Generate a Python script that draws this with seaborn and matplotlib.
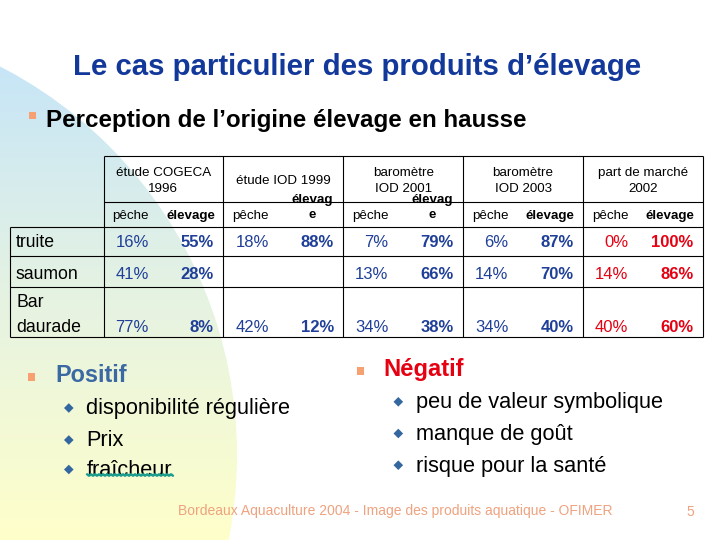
import numpy as np
import matplotlib
matplotlib.use("Agg")
import matplotlib.pyplot as plt
from matplotlib.patches import Circle, Rectangle, Polygon
import seaborn as sns

# ---------------- data ----------------
title = "Le cas particulier des produits d\u2019élevage"
subtitle = "Perception de l\u2019origine élevage en hausse"
study_labels = ["étude COGECA\n1996", "étude IOD 1999", "baromètre\nIOD 2001",
                "baromètre\nIOD 2003", "part de marché\n2002"]
sub_labels = ["pêche", "élevage"]
wrapped_elevage = [False, True, True, False, False]
row_labels = ["truite", "saumon", "Bar\ndaurade"]
peche = [[16, 41, 77], [18, None, 42], [7, 13, 34], [6, 14, 34], [0, 14, 40]]
elevage = [[55, 28, 8], [88, None, 12], [79, 66, 38], [87, 70, 40], [100, 86, 60]]
positif_items = ["disponibilité régulière", "Prix", "fraîcheur"]
negatif_items = ["peu de valeur symbolique", "manque de goût", "risque pour la santé"]
footer = "Bordeaux Aquaculture 2004 - Image des produits aquatique - OFIMER"
page_no = "5"

# ---------------- style ----------------
sns.set_theme(style="white")
plt.rcParams["font.family"] = ["Liberation Sans", "DejaVu Sans"]

BLUE_TITLE = "#12389A"
BLUE_VAL = "#1F3F98"
RED = "#E50012"
ORANGE = "#F7A072"
BULLET_BLUE = "#34679F"
POS_BLUE = "#3A69A3"
FOOT = "#EFA27F"

fig = plt.figure(figsize=(7.2, 5.4), dpi=100)
ax = fig.add_axes([0, 0, 1, 1])

# background: gradient circle on the left
ys = np.linspace(60, 540, 240)
stops_y = [60, 300, 540]
stops_c = np.array([[198, 229, 248], [230, 243, 226], [255, 255, 202]]) / 255
grad = np.stack([np.interp(ys, stops_y, stops_c[:, k]) for k in range(3)], axis=1)
img = grad[:, None, :].repeat(4, axis=1)
im = ax.imshow(img, extent=[0, 245, 540, 60], origin="upper", aspect="auto",
               interpolation="bilinear", zorder=0)
circ = Circle((-200, 455), 437, transform=ax.transData, facecolor="none", edgecolor="none")
ax.add_patch(circ)
im.set_clip_path(circ)

ax.set_xlim(0, 720)
ax.set_ylim(540, 0)
ax.axis("off")

# title + subtitle
ax.text(357, 75, title, ha="center", va="baseline", fontsize=21.2,
        fontweight="bold", color=BLUE_TITLE)
ax.add_patch(Rectangle((29.3, 112.3), 7, 7, color=ORANGE, lw=0))
ax.text(46, 127.5, subtitle, ha="left", va="baseline", fontsize=17.4,
        fontweight="bold", color="black")

# ---------------- table ----------------
tbl_left = 103.5
group_w = 119.9
label_left = 9.5
row_edges = [226.5, 255.5, 287, 337]
head_top, head_mid = 156, 202
n_groups = len(study_labels)
tbl_right = tbl_left + group_w * n_groups
lw = 0.8
ax.hlines([head_top, head_mid], tbl_left, tbl_right, color="black", lw=lw, zorder=3)
ax.hlines(row_edges, label_left, tbl_right, color="black", lw=lw, zorder=3)
ax.vlines([tbl_left + i * group_w for i in range(n_groups + 1)], head_top, row_edges[-1],
          color="black", lw=lw, zorder=3)
ax.vlines([label_left], row_edges[0], row_edges[-1], color="black", lw=lw, zorder=3)

head_fs = 9.6
for g, lab in enumerate(study_labels):
    gl = tbl_left + g * group_w
    lines = lab.split("\n")
    n = len(lines)
    for i, ln in enumerate(lines):
        ax.text(gl + group_w / 2, 184 + (i - (n - 1) / 2) * 15.5, ln, ha="center",
                va="baseline", fontsize=head_fs, color="black")
    ax.text(gl + 27, 218.5, sub_labels[0], ha="center", va="baseline",
            fontsize=head_fs, color="black")
    if wrapped_elevage[g]:
        ax.text(gl + 89, 203.5, sub_labels[1][:-1], ha="center", va="baseline",
                fontsize=head_fs, fontweight="bold", color="black", zorder=4)
        ax.text(gl + 89, 218.5, sub_labels[1][-1], ha="center", va="baseline",
                fontsize=head_fs, fontweight="bold", color="black")
    else:
        ax.text(gl + 87, 218.5, sub_labels[1], ha="center", va="baseline",
                fontsize=head_fs, fontweight="bold", color="black")

row_base = [247.3, 279, 332]
for r, lab in enumerate(row_labels):
    lines = lab.split("\n")
    n = len(lines)
    for i, ln in enumerate(lines):
        ax.text(16, row_base[r] - (n - 1 - i) * 25, ln, ha="left", va="baseline",
                fontsize=12.7, color="black")

for g in range(n_groups):
    gl = tbl_left + g * group_w
    col = RED if g == n_groups - 1 else BLUE_VAL
    for r in range(len(row_labels)):
        if peche[g][r] is not None:
            ax.text(gl + 45.3, row_base[r], f"{peche[g][r]}%", ha="right", va="baseline",
                    fontsize=12, color=col)
        if elevage[g][r] is not None:
            ax.text(gl + 110.5, row_base[r], f"{elevage[g][r]}%", ha="right", va="baseline",
                    fontsize=12, fontweight="bold", color=col)

# ---------------- bullets ----------------
def diamond(cx, cy, s=4.8):
    ax.add_patch(Polygon([(cx - s, cy), (cx, cy - s), (cx + s, cy), (cx, cy + s)],
                         closed=True, color=BULLET_BLUE, lw=0))

ax.add_patch(Rectangle((27.7, 373.3), 7.5, 7.5, color=ORANGE, lw=0))
ax.text(55, 381.7, "Positif", ha="left", va="baseline", fontsize=16.9,
        fontweight="bold", color=POS_BLUE)
pos_base = [414, 446, 475.5]
for i, t in enumerate(positif_items):
    diamond(68.8, pos_base[i] - 6)
    ax.text(86.5, pos_base[i], t, ha="left", va="baseline", fontsize=15.7, color="black")
# spell-check squiggle under the last positive item
xs = np.linspace(87, 173, 200)
ax.plot(xs, 475 + 0.7 * np.sin(xs * 2 * np.pi / 4), color="#1E9C8E", lw=1.7, zorder=3)

ax.add_patch(Rectangle((356.7, 367.3), 7.5, 7.5, color=ORANGE, lw=0))
ax.text(383.3, 376, "Négatif", ha="left", va="baseline", fontsize=17.1,
        fontweight="bold", color=RED)
neg_base = [408.3, 440, 471.7]
for i, t in enumerate(negatif_items):
    diamond(398.3, neg_base[i] - 6.5)
    ax.text(416, neg_base[i], t, ha="left", va="baseline", fontsize=15.7, color="black")

# footer
ax.text(177.7, 515.5, footer, ha="left", va="baseline", fontsize=10, color=FOOT)
ax.text(694, 515.5, page_no, ha="right", va="baseline", fontsize=10, color=FOOT)

fig.savefig("out.png", dpi=100)
